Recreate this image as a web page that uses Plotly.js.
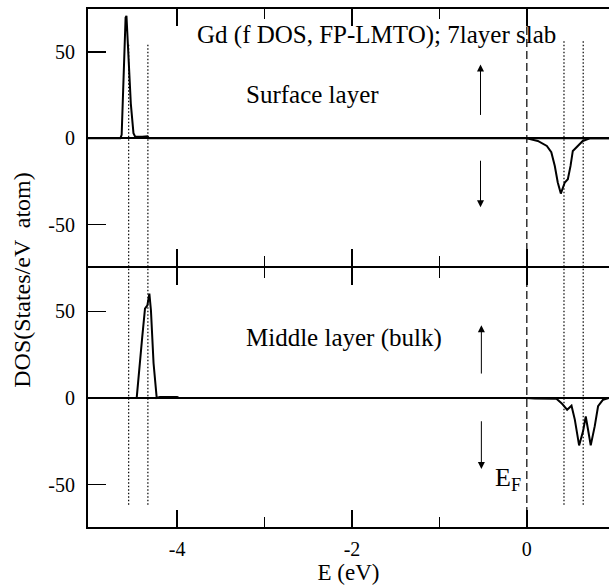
<!DOCTYPE html>
<html>
<head>
<meta charset="utf-8">
<script src="https://cdn.plot.ly/plotly-3.0.1.min.js"></script>
<style>html,body{margin:0;padding:0;background:#fff;}#chart{width:609px;height:586px;}</style>
</head>
<body>
<div id="chart"></div>
<script>
// ---- data ----
// Surface layer, spin up (f peak below EF)
var surfUpE   = [-5.02, -4.65, -4.635, -4.61, -4.59, -4.58, -4.56, -4.53, -4.50, -4.48, -4.40, -4.34, -4.32, 0.94];
var surfUpDOS = [0, 0, 2, 35, 70, 71, 50, 20, 3, 1, 1, 1.2, 0, 0];
// Surface layer, spin down (above EF)
var surfDnE   = [0, 0.126, 0.229, 0.28, 0.32, 0.354, 0.389, 0.434, 0.469, 0.5, 0.526, 0.583, 0.64, 0.72, 0.94];
var surfDnDOS = [0, -1.5, -4.4, -8, -16, -25.6, -32, -25.6, -23.7, -16, -7.3, -4.4, -1.5, 0, 0];
// Middle layer (bulk), spin up
var midUpE    = [-5.02, -4.463, -4.40, -4.368, -4.341, -4.318, -4.30, -4.27, -4.234, -4.20, -4.0, -3.98, 0.94];
var midUpDOS  = [0, 0, 35, 51.5, 53.4, 60.2, 50.6, 20, 0, 0.5, 0.5, 0, 0];
// Middle layer (bulk), spin down
var midDnE    = [0, 0.091, 0.339, 0.397, 0.461, 0.511, 0.549, 0.598, 0.643, 0.674, 0.70, 0.731, 0.777, 0.815, 0.872, 0.94];
var midDnDOS  = [0, -0.3, -0.5, -3, -6.8, -4.5, -12.5, -27.4, -19.3, -10.7, -18.2, -27.4, -16.3, -4.8, -1, 0];

// reference energies (vertical marker lines)
var dottedE   = [-4.555, -4.335, 0.425, 0.645];
var fermiE    = [0];

// ticks
var xTicks     = [-4, -2, 0];
var xTickText  = ['-4', '-2', '0'];
var xMinor     = [-3, -1];
var yTicks     = [-50, 0, 50];
var yTickText  = ['-50', '0', '50'];

// texts
var titleText  = 'Gd (f DOS, FP-LMTO); 7layer slab';
var surfText   = 'Surface layer';
var midText    = 'Middle layer (bulk)';
var efText     = 'E<sub>F</sub>';
var xTitle     = 'E (eV)';
var yTitle     = 'DOS(States/eV  atom)';

// spin arrows: [x, tail y, head y]
var arrowsTop  = [[-0.53, 12.7, 42.8], [-0.53, -12.1, -39.9]];
var arrowsBot  = [[-0.52, 13.2, 42.0], [-0.52, -12.6, -41.0]];

// ---- drawing ----
var FONT = 'Liberation Serif';
var lineStyle = {color: '#000', width: 2};

var traces = [
  {x: surfUpE, y: surfUpDOS, xaxis: 'x2', yaxis: 'y2', mode: 'lines', line: lineStyle, hoverinfo: 'skip'},
  {x: surfDnE, y: surfDnDOS, xaxis: 'x2', yaxis: 'y2', mode: 'lines', line: lineStyle, hoverinfo: 'skip'},
  {x: midUpE,  y: midUpDOS,  xaxis: 'x',  yaxis: 'y',  mode: 'lines', line: lineStyle, hoverinfo: 'skip'},
  {x: midDnE,  y: midDnDOS,  xaxis: 'x',  yaxis: 'y',  mode: 'lines', line: lineStyle, hoverinfo: 'skip'}
];

var shapes = [];
dottedE.forEach(function (e, i) {
  var top = i < 2 ? 0.932 : 0.94;
  shapes.push({type: 'line', xref: 'x', yref: 'paper', x0: e, x1: e, y0: 0.043, y1: top,
    line: {color: '#000', width: 1.2, dash: '1.5px,2px'}, layer: 'below'});
});
fermiE.forEach(function (e) {
  shapes.push({type: 'line', xref: 'x', yref: 'paper', x0: e, x1: e, y0: 0, y1: 1,
    line: {color: '#000', width: 1.2, dash: '8px,4px'}, layer: 'below'});
});

var annFont = {family: FONT, size: 25, color: '#000'};
var annotations = [
  {xref: 'x2', yref: 'y2', x: -1.725, y: 60, text: titleText, showarrow: false, font: annFont},
  {xref: 'x2', yref: 'y2', x: -2.457, y: 25.4, text: surfText, showarrow: false, font: annFont},
  {xref: 'x', yref: 'y', x: -2.09, y: 34.5, text: midText, showarrow: false, font: annFont},
  {xref: 'x', yref: 'y', x: -0.21, y: -47, text: efText, showarrow: false, font: {family: FONT, size: 26, color: '#000'}},
  {xref: 'paper', yref: 'paper', x: -0.127, y: 0.477, xanchor: 'center', yanchor: 'middle', text: yTitle, textangle: -90,
   showarrow: false, font: {family: FONT, size: 24, color: '#000'}}
];
function addArrows(list, xr, yr) {
  list.forEach(function (a) {
    annotations.push({xref: xr, yref: yr, axref: xr, ayref: yr, x: a[0], y: a[2], ax: a[0], ay: a[1],
      text: '', showarrow: true, arrowhead: 2, arrowsize: 1.4, arrowwidth: 1, arrowcolor: '#000', standoff: 0, startstandoff: 0});
  });
}
addArrows(arrowsTop, 'x2', 'y2');
addArrows(arrowsBot, 'x', 'y');

var tickFont = {family: FONT, size: 20, color: '#000'};
var xCommon = {
  range: [-5.02, 0.94], tickmode: 'array', tickvals: xTicks, ticktext: xTickText,
  ticks: 'inside', ticklen: 17, tickwidth: 1.5, tickcolor: '#000',
  showline: true, linewidth: 2, linecolor: '#000', mirror: 'ticks', showgrid: false, zeroline: false,
  minor: {tickvals: xMinor, ticks: 'inside', ticklen: 10, tickwidth: 1.5, tickcolor: '#000', showgrid: false},
  tickfont: tickFont
};
var yCommon = {
  tickmode: 'array', tickvals: yTicks, ticktext: yTickText,
  ticks: 'inside', ticklen: 18, tickwidth: 1.5, tickcolor: '#000',
  showline: true, linewidth: 2, linecolor: '#000', mirror: false, showgrid: false,
  zeroline: true, zerolinecolor: '#000', zerolinewidth: 2,
  tickfont: tickFont, ticklabelstandoff: 7
};

var layout = {
  width: 609, height: 586,
  font: {family: FONT, color: '#000'},
  margin: {l: 88, r: 0, t: 9, b: 59},
  paper_bgcolor: '#fff', plot_bgcolor: 'rgba(0,0,0,0)',
  showlegend: false,
  xaxis: Object.assign({}, xCommon, {anchor: 'y', domain: [0, 1], ticklabelstandoff: 3,
    title: {text: xTitle, font: {family: FONT, size: 23, color: '#000'}, standoff: 4}}),
  xaxis2: Object.assign({}, xCommon, {anchor: 'y2', domain: [0, 1], matches: 'x', showticklabels: false}),
  yaxis: Object.assign({}, yCommon, {domain: [0, 0.5], range: [-74.5, 75], anchor: 'x'}),
  yaxis2: Object.assign({}, yCommon, {domain: [0.5039, 1], range: [-74, 75], anchor: 'x2'}),
  shapes: shapes,
  annotations: annotations
};

Plotly.newPlot('chart', traces, layout, {displayModeBar: false, staticPlot: true});
</script>
</body>
</html>
